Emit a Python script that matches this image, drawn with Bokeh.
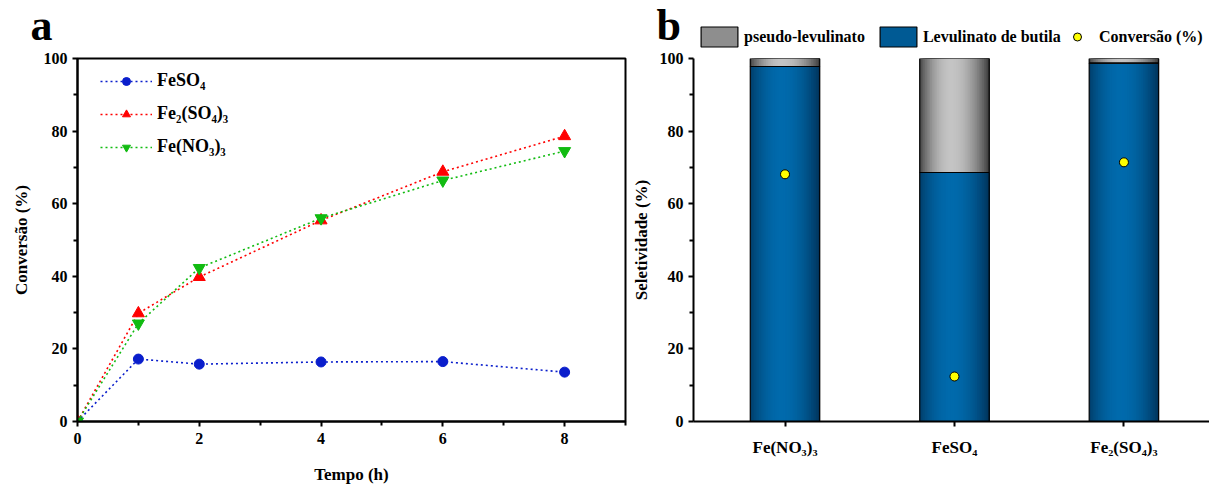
import numpy as np
from bokeh.plotting import figure
from bokeh.layouts import row, column
from bokeh.models import FixedTicker, Legend, LegendItem, Label, ColumnDataSource, Range1d
from bokeh.embed import file_html
from bokeh.resources import INLINE

# ---------------- data: panel a ----------------
tempo = [0, 1, 2, 4, 6, 8]
conv_feso4 = [0, 17.2, 15.8, 16.4, 16.5, 13.6]
conv_fe2so43 = [0, 29.8, 39.8, 55.4, 68.8, 78.6]
conv_feno33 = [0, 27.0, 42.3, 56.0, 66.4, 74.5]
labels_a = ["FeSO₄", "Fe₂(SO₄)₃", "Fe(NO₃)₃"]

# ---------------- data: panel b ----------------
catalysts = ["Fe(NO₃)₃", "FeSO₄", "Fe₂(SO₄)₃"]
levulinato_butila = [97.8, 68.6, 98.7]
pseudo_levulinato = [2.2, 31.4, 1.3]
conversao_b = [68.1, 12.4, 71.4]
labels_b = ["pseudo-levulinato", "Levulinato de butila", "Conversão (%)"]

FONT = "Liberation Serif"
TOP_H = 49
GAP = 58 - TOP_H

def style_axes(p, tick_size="16px", label_size="17px"):
    for ax in (p.xaxis[0], p.yaxis[0]):
        ax.axis_line_width = 2
        ax.axis_line_color = "black"
        ax.major_tick_line_width = 2
        ax.minor_tick_line_width = 2
        ax.major_tick_in = 0
        ax.major_tick_out = 5
        ax.minor_tick_in = 0
        ax.minor_tick_out = 4
        ax.major_label_text_font = FONT
        ax.major_label_text_font_style = "bold"
        ax.major_label_text_font_size = tick_size
        ax.major_label_text_color = "black"
        ax.axis_label_text_font = FONT
        ax.axis_label_text_font_style = "bold"
        ax.axis_label_text_font_size = label_size
        ax.axis_label_text_color = "black"
    p.xgrid.visible = False
    p.ygrid.visible = False
    p.background_fill_color = "white"
    p.border_fill_color = "white"

# ================= top strip (panel letters + legend of b) =================
p0 = figure(width=1209, height=TOP_H, x_range=Range1d(0, 1209), y_range=Range1d(0, TOP_H),
            output_backend="svg", toolbar_location=None, x_axis_type=None, y_axis_type=None,
            min_border_left=0, min_border_right=0, min_border_top=0, min_border_bottom=0)
p0.outline_line_color = None
p0.background_fill_color = "white"
p0.border_fill_color = "white"
p0.add_layout(Label(x=30, y=TOP_H - 24.5, text="a", text_font=FONT, text_font_style="bold",
                    text_font_size="44px", text_color="black", text_baseline="middle"))
p0.add_layout(Label(x=656, y=TOP_H - 24.5, text="b", text_font=FONT, text_font_style="bold",
                    text_font_size="44px", text_color="black", text_baseline="middle"))

# legend proxies (placed below the visible range; only their legend glyphs show)
dg = p0.vbar(x=[600], bottom=[-300], top=[-290], width=1, fill_color="#8e8e8e", line_color="black", line_width=1.2)
db = p0.vbar(x=[600], bottom=[-300], top=[-290], width=1, fill_color="#005a94", line_color="black", line_width=1.2)
dc = p0.scatter(x=[600], y=[-300], marker="circle", size=9, fill_color="#ffff00", line_color="black", line_width=1)

legend_kw = dict(orientation="horizontal", glyph_height=25, label_height=25,
                 label_standoff=2, padding=0, margin=0, border_line_color=None,
                 background_fill_alpha=0, label_text_font=FONT, label_text_font_style="bold",
                 label_text_font_size="16px", label_text_color="black")
leg2 = Legend(items=[LegendItem(label=labels_b[0], renderers=[dg]),
                     LegendItem(label=labels_b[1], renderers=[db])],
              location=(696, 0), glyph_width=46, spacing=10, **legend_kw)
leg3 = Legend(items=[LegendItem(label=labels_b[2], renderers=[dc])],
              location=(1067, 0), glyph_width=20, spacing=0, **dict(legend_kw, label_standoff=12))
p0.add_layout(leg2)
p0.add_layout(leg3)

# ================= panel a =================
p1 = figure(width=628, height=486 - TOP_H, x_range=(0, 9), y_range=(0, 100),
            output_backend="svg", toolbar_location=None,
            min_border_left=77, min_border_right=3, min_border_top=GAP, min_border_bottom=62)
style_axes(p1)
p1.outline_line_color = "black"
p1.outline_line_width = 2
p1.outline_line_alpha = 1
p1.xaxis.ticker = FixedTicker(ticks=[0, 2, 4, 6, 8], minor_ticks=[1, 3, 5, 7, 9])
p1.yaxis.ticker = FixedTicker(ticks=[0, 20, 40, 60, 80, 100], minor_ticks=[10, 30, 50, 70, 90])
p1.xaxis.axis_label = "Tempo (h)"
p1.yaxis.axis_label = "Conversão (%)"
p1.xaxis.axis_label_standoff = 18
p1.yaxis.axis_label_standoff = 10
p1.xaxis.major_label_standoff = 6

series = [
    (conv_feso4, "#0a1ecc", "circle", 10),
    (conv_fe2so43, "#ff0000", "triangle", 12),
    (conv_feno33, "#11bb11", "inverted_triangle", 12),
]
items = []
for (vals, col, mk, sz), lab in zip(series, labels_a):
    r1 = p1.line(tempo, vals, line_color=col, line_width=1.6, line_dash="2 3")
    r2 = p1.scatter(tempo, vals, marker=mk, size=sz, fill_color=col, line_color=col)
    items.append(LegendItem(label=lab, renderers=[r1, r2]))

leg1 = Legend(items=items, location=(23, 264), orientation="vertical",
              glyph_width=52, glyph_height=20, label_height=20, spacing=12,
              label_standoff=5, padding=0, margin=0,
              border_line_color=None, background_fill_alpha=0,
              label_text_font=FONT, label_text_font_style="bold",
              label_text_font_size="18px", label_text_color="black")
p1.add_layout(leg1)

# ================= panel b =================
pos = [1, 2, 3]
bw = 0.41
p2 = figure(width=581, height=486 - TOP_H, x_range=(0.46, 3.505), y_range=(0, 100),
            output_backend="svg", toolbar_location=None,
            min_border_left=59, min_border_right=0, min_border_top=GAP, min_border_bottom=58)
style_axes(p2, tick_size="16px", label_size="17px")
p2.xaxis.major_label_text_font_size = "17px"
p2.outline_line_color = None
p2.xaxis.ticker = FixedTicker(ticks=pos, minor_ticks=[])
p2.xaxis.major_label_overrides = {k: c for k, c in zip(pos, catalysts)}
p2.yaxis.ticker = FixedTicker(ticks=[0, 20, 40, 60, 80, 100], minor_ticks=[10, 30, 50, 70, 90])
p2.yaxis.axis_label = "Seletividade (%)"
p2.yaxis.axis_label_standoff = 6
p2.xaxis.major_label_standoff = 11

N = 40
def shade(t, dark_l, light, dark_r, peak=0.45):
    if t <= peak:
        s = t / peak
        d = dark_l
    else:
        s = (1 - t) / (1 - peak)
        d = dark_r
    k = np.sin(s * np.pi / 2) ** 0.8
    r, g, b = (int(round(dd + (ll - dd) * k)) for dd, ll in zip(d, light))
    return "#%02x%02x%02x" % (r, g, b)

blue_cols = [shade((j + 0.5) / N, (0x00, 0x3c, 0x68), (0x00, 0x6a, 0xac), (0x00, 0x30, 0x56)) for j in range(N)]
gray_cols = [shade((j + 0.5) / N, (0x40, 0x40, 0x40), (0xc4, 0xc4, 0xc4), (0x34, 0x34, 0x34)) for j in range(N)]

def strips(bottoms, tops, cols):
    # each strip runs from its own left edge to the bar's right edge; later strips cover earlier ones
    L, R, B, T, C = [], [], [], [], []
    for xc, b0, t0 in zip(pos, bottoms, tops):
        for j in range(N):
            L.append(xc - bw / 2 + j * bw / N)
            R.append(xc + bw / 2)
            B.append(b0)
            T.append(t0)
            C.append(cols[j])
    return ColumnDataSource(dict(left=L, right=R, bottom=B, top=T, color=C))

lev_top = list(levulinato_butila)
pse_top = [a + b for a, b in zip(levulinato_butila, pseudo_levulinato)]
p2.quad(source=strips([0] * 3, lev_top, blue_cols), left="left", right="right",
        bottom="bottom", top="top", fill_color="color", line_color=None)
p2.quad(source=strips(lev_top, pse_top, gray_cols), left="left", right="right",
        bottom="bottom", top="top", fill_color="color", line_color=None)
p2.vbar(x=pos, width=bw, bottom=0, top=lev_top, fill_alpha=0, line_color="black", line_width=1.2)
p2.vbar(x=pos, width=bw, bottom=lev_top, top=pse_top, fill_alpha=0, line_color="black", line_width=1.2)
p2.scatter(pos, conversao_b, marker="circle", size=9, fill_color="#ffff00", line_color="black", line_width=1)

layout = column(p0, row(p1, p2))
open("out.html", "w").write(file_html(layout, INLINE))
